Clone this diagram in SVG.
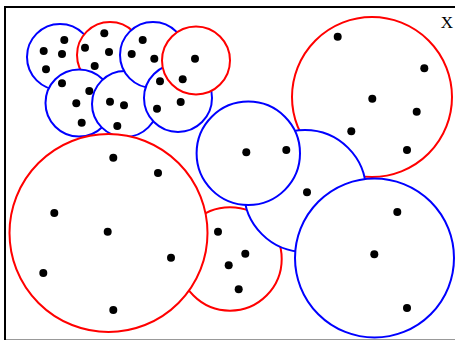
<svg xmlns="http://www.w3.org/2000/svg" width="455" height="340" viewBox="0 0 455 340">
<style>
.r{fill:#fff;stroke:#f00;stroke-width:2}
.b{fill:#fff;stroke:#00f;stroke-width:2}
.d{fill:#000}
.lbl{font-family:"Liberation Serif","Times New Roman",serif;font-size:17px;fill:#000}
</style>
<rect x="0" y="0" width="455" height="340" fill="#fff"/>
<rect x="5" y="7" width="460" height="333.6" fill="#fff" stroke="#000" stroke-width="2"/>
<text class="lbl" x="447" y="28" text-anchor="middle">X</text>
<g id="A"><circle class="b" cx="60" cy="57" r="33"/><circle class="d" cx="43.7" cy="51" r="4"/><circle class="d" cx="64.3" cy="40" r="4"/><circle class="d" cx="62" cy="54" r="4"/><circle class="d" cx="46" cy="69.3" r="4"/></g>
<g id="B"><circle class="r" cx="110" cy="55" r="33"/><circle class="d" cx="104.3" cy="33.3" r="4"/><circle class="d" cx="85" cy="47.7" r="4"/><circle class="d" cx="109" cy="52" r="4"/><circle class="d" cx="94.7" cy="66" r="4"/></g>
<g id="D"><circle class="b" cx="79" cy="103" r="33.5"/><circle class="d" cx="62" cy="83.3" r="4"/><circle class="d" cx="89.3" cy="91" r="4"/><circle class="d" cx="76.3" cy="103.3" r="4"/><circle class="d" cx="81.7" cy="122.7" r="4"/></g>
<g id="F"><circle class="b" cx="125" cy="104" r="33"/><circle class="d" cx="110" cy="101.7" r="4"/><circle class="d" cx="124" cy="105.3" r="4"/><circle class="d" cx="117.3" cy="126" r="4"/></g>
<g id="C"><circle class="b" cx="153" cy="55" r="33"/><circle class="d" cx="142.7" cy="40" r="4"/><circle class="d" cx="131.7" cy="54" r="4"/><circle class="d" cx="154.3" cy="58.7" r="4"/></g>
<g id="G"><circle class="b" cx="178" cy="98" r="34"/><circle class="d" cx="160" cy="81.3" r="4"/><circle class="d" cx="180.7" cy="102" r="4"/><circle class="d" cx="157" cy="108.7" r="4"/></g>
<g id="E"><circle class="r" cx="196" cy="60.5" r="34"/><circle class="d" cx="195" cy="58.7" r="4"/><circle class="d" cx="182.7" cy="79.3" r="4"/></g>
<g id="I"><circle class="r" cx="230" cy="259" r="51.7"/><circle class="d" cx="218" cy="231.7" r="4"/><circle class="d" cx="245.3" cy="253.7" r="4"/><circle class="d" cx="228.7" cy="265.3" r="4"/><circle class="d" cx="238.7" cy="289.3" r="4"/></g>
<g id="H"><circle class="r" cx="108.5" cy="233" r="99"/><circle class="d" cx="113.3" cy="157.7" r="4"/><circle class="d" cx="158" cy="173" r="4"/><circle class="d" cx="54.3" cy="213" r="4"/><circle class="d" cx="107.7" cy="231.7" r="4"/><circle class="d" cx="171" cy="257.7" r="4"/><circle class="d" cx="43.3" cy="273" r="4"/><circle class="d" cx="113.3" cy="310" r="4"/></g>
<g id="M"><circle class="r" cx="372" cy="97" r="80"/><circle class="d" cx="337.7" cy="36.7" r="4"/><circle class="d" cx="424.3" cy="68.3" r="4"/><circle class="d" cx="372.3" cy="98.7" r="4"/><circle class="d" cx="416.7" cy="111.7" r="4"/><circle class="d" cx="351.3" cy="131.3" r="4"/><circle class="d" cx="407" cy="150" r="4"/></g>
<g id="K"><circle class="b" cx="305" cy="191" r="61"/><circle class="d" cx="307" cy="192.3" r="4"/></g>
<g id="J"><circle class="b" cx="248.3" cy="153.3" r="51.7"/><circle class="d" cx="246.3" cy="152.3" r="4"/><circle class="d" cx="286.3" cy="150" r="4"/></g>
<g id="L"><circle class="b" cx="374.5" cy="258" r="79.5"/><circle class="d" cx="397.3" cy="212" r="4"/><circle class="d" cx="374.3" cy="254.3" r="4"/><circle class="d" cx="407" cy="308" r="4"/></g>
<g id="connectors"/>
</svg>
